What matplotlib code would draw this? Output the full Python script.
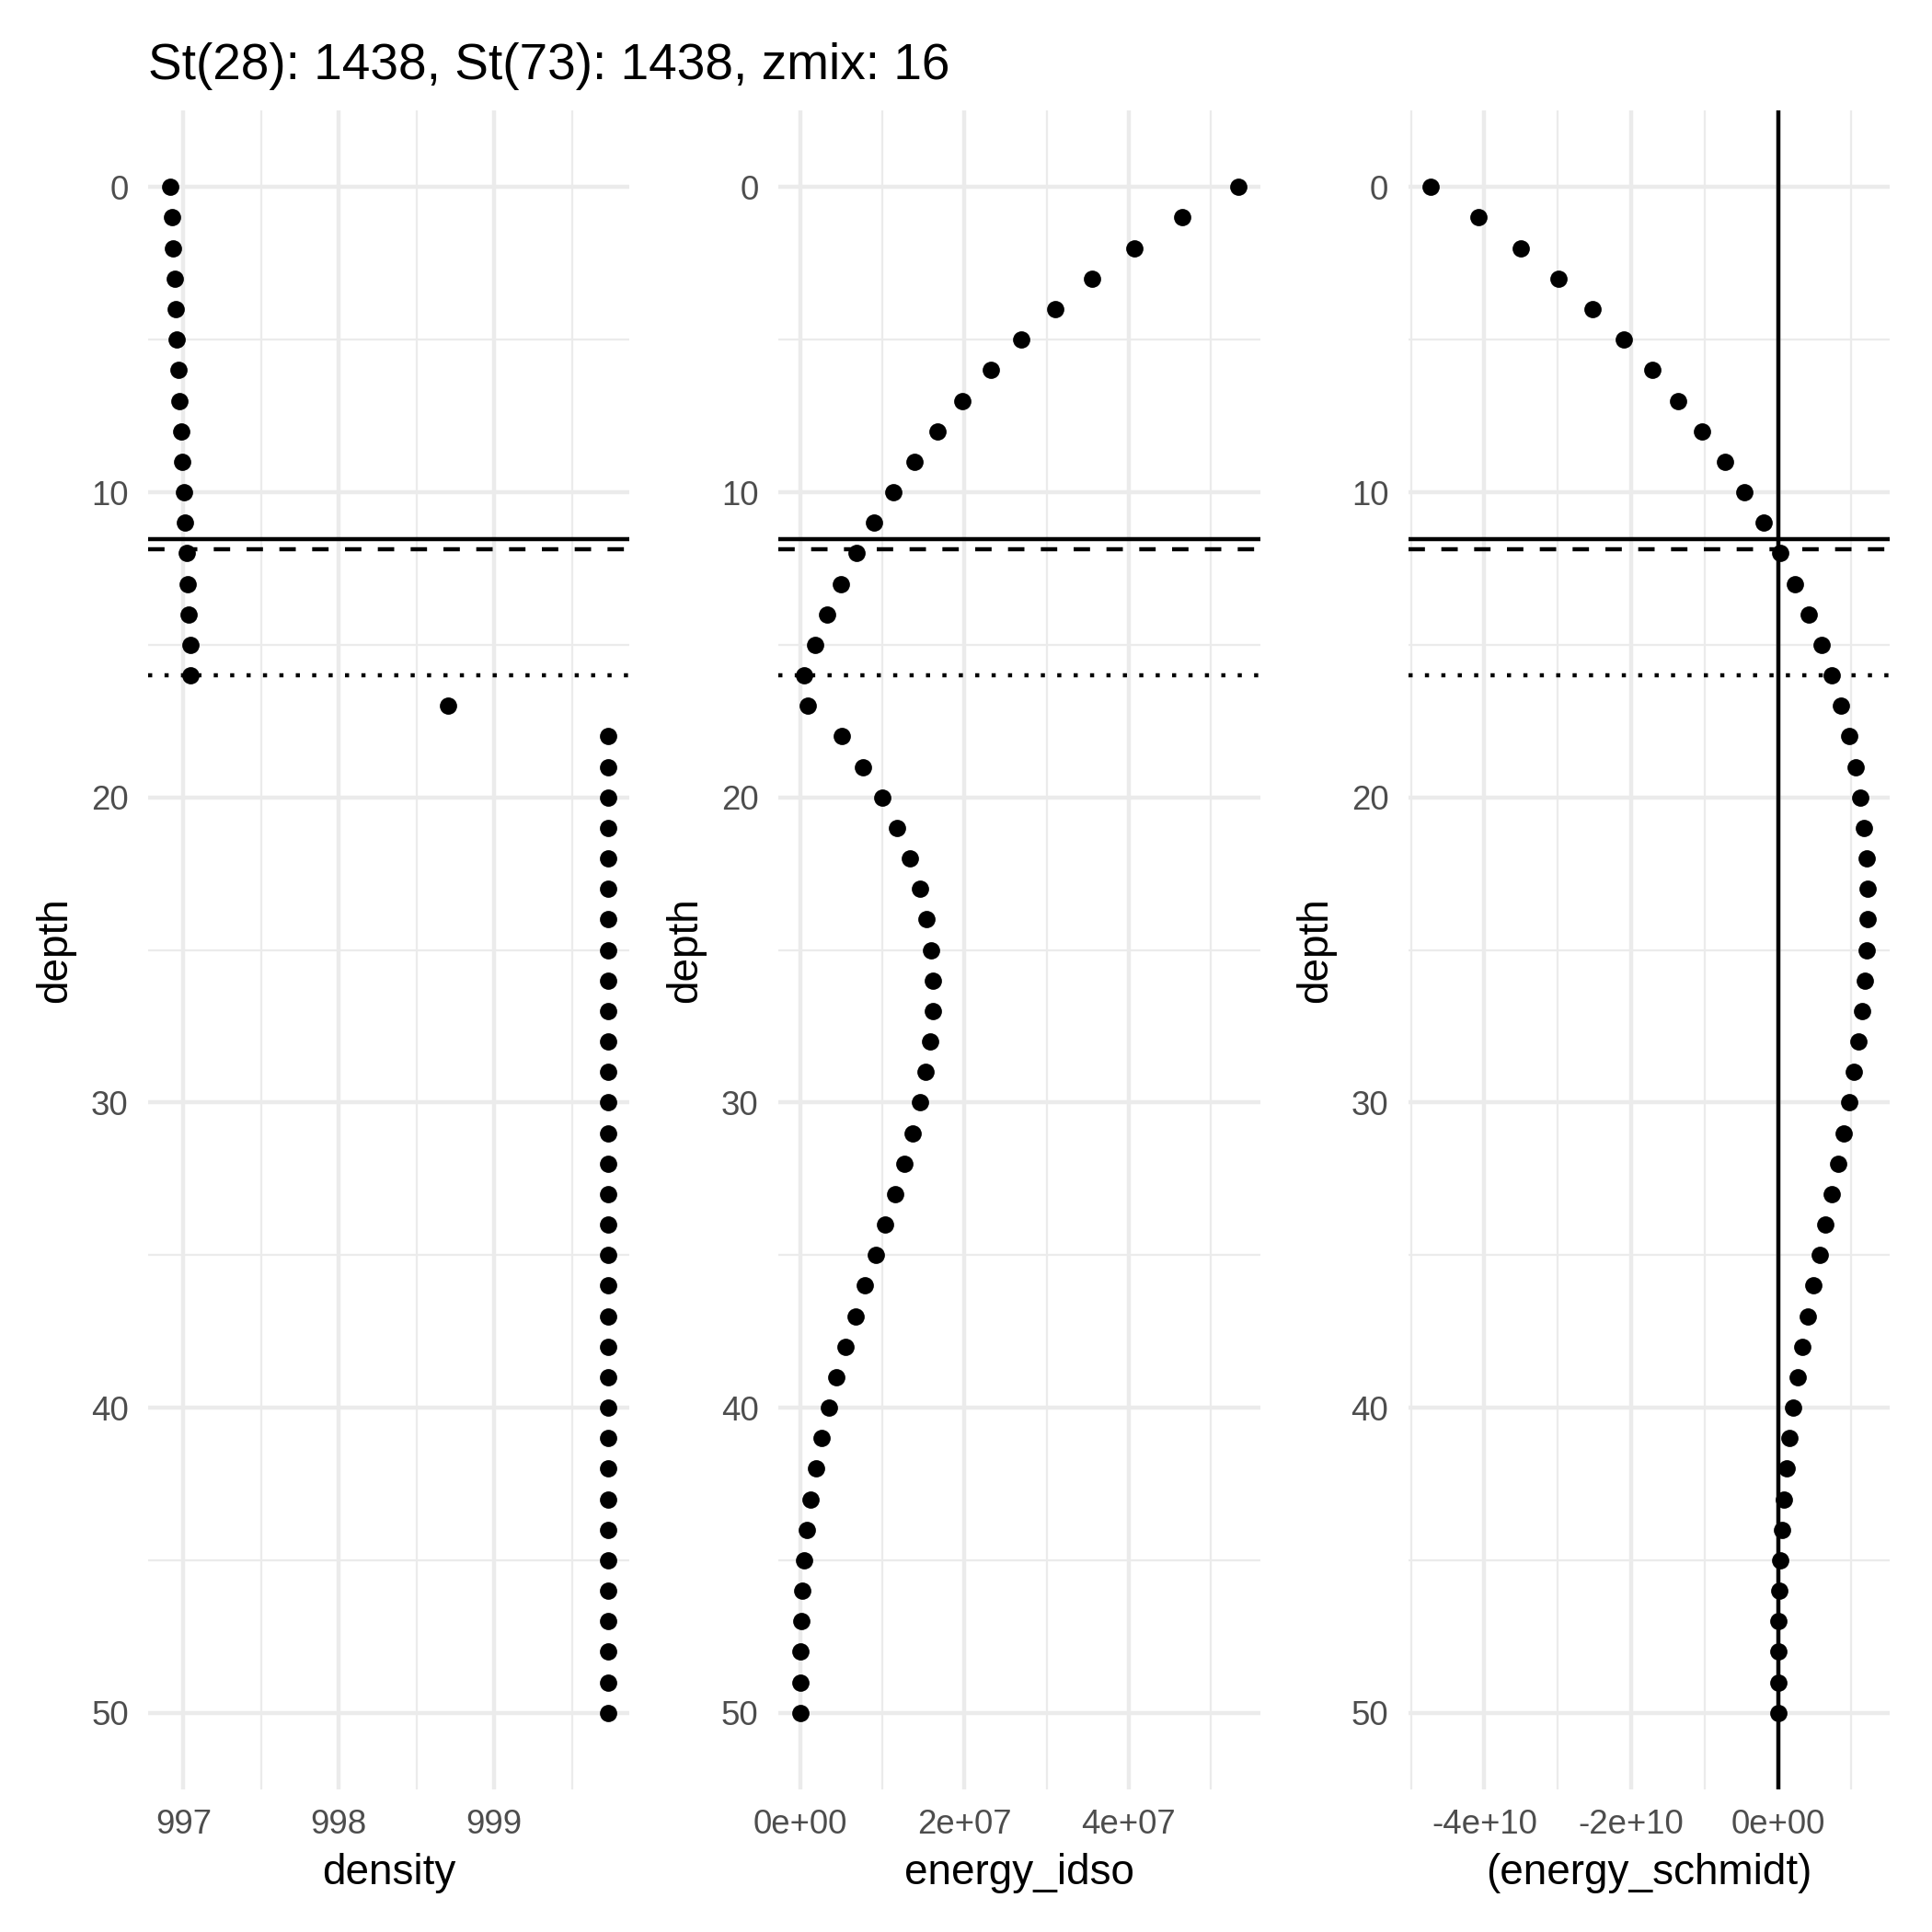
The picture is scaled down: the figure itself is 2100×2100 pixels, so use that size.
import matplotlib
matplotlib.use('Agg')
import matplotlib.pyplot as plt
from matplotlib.ticker import MultipleLocator, FuncFormatter

plt.rcParams['font.family'] = ['Liberation Sans', 'DejaVu Sans']

# profile data, one value per metre
depth = [0, 1, 2, 3, 4, 5, 6, 7, 8, 9, 10, 11, 12, 13, 14, 15, 16, 17, 18, 19, 20,
         21, 22, 23, 24, 25, 26, 27, 28, 29, 30, 31, 32, 33, 34, 35, 36, 37, 38, 39, 40,
         41, 42, 43, 44, 45, 46, 47, 48, 49, 50]

density = [996.916, 996.925, 996.934, 996.943, 996.950, 996.959, 996.968, 996.977,
           996.984, 996.993, 997.002, 997.011, 997.020, 997.027, 997.036, 997.045,
           997.045, 998.702, 999.73, 999.73, 999.73, 999.73, 999.73, 999.73, 999.73,
           999.73, 999.73, 999.73, 999.73, 999.73, 999.73, 999.73, 999.73, 999.73,
           999.73, 999.73, 999.73, 999.73, 999.73, 999.73, 999.73, 999.73, 999.73,
           999.73, 999.73, 999.73, 999.73, 999.73, 999.73, 999.73, 999.73]

# energy_idso in units of 1e7
energy_idso = [5.334, 4.657, 4.075, 3.559, 3.103, 2.691, 2.317, 1.974, 1.668, 1.385,
               1.128, 0.897, 0.688, 0.497, 0.329, 0.179, 0.045, 0.093, 0.501, 0.766,
               0.994, 1.181, 1.334, 1.454, 1.536, 1.587, 1.610, 1.610, 1.580, 1.530,
               1.454, 1.368, 1.263, 1.155, 1.035, 0.916, 0.788, 0.669, 0.553, 0.443,
               0.348, 0.262, 0.187, 0.123, 0.078, 0.041, 0.022, 0.007, 0.001, 0.0, 0.0]

# energy_schmidt in units of 1e10
energy_schmidt = [-4.735, -4.075, -3.503, -2.990, -2.526, -2.100, -1.712, -1.357, -1.031,
                  -0.727, -0.455, -0.200, 0.025, 0.234, 0.420, 0.588, 0.729, 0.858, 0.967,
                  1.054, 1.125, 1.175, 1.204, 1.221, 1.225, 1.213, 1.188, 1.146, 1.096,
                  1.038, 0.967, 0.896, 0.815, 0.730, 0.647, 0.564, 0.481, 0.407, 0.336,
                  0.266, 0.207, 0.158, 0.116, 0.075, 0.050, 0.029, 0.012, 0.004, 0.002,
                  0.0, 0.0]

thermo_solid = 11.53
thermo_dashed = 11.87
zmix = 16
title = 'St(28): 1438, St(73): 1438, zmix: 16'

idso = [v * 1e7 for v in energy_idso]
schmidt = [v * 1e10 for v in energy_schmidt]

def sci(v, pos):
    return '{:.0e}'.format(v)

fig = plt.figure(figsize=(7, 7), dpi=300)
W = 2100.0
bottom = (W - 1944.7) / W
height = (1944.7 - 120.4) / W
lefts = [161.4, 846.2, 1531.0]
widths = [523.0, 523.3, 523.2]

panels = [
    (density, 'density', 1, 0.5, None),
    (idso, 'energy_idso', 2e7, 1e7, sci),
    (schmidt, '(energy_schmidt)', 2e10, 1e10, sci),
]

for i, (xs, xlab, major, minor, fmt) in enumerate(panels):
    ax = fig.add_axes([lefts[i] / W, bottom, widths[i] / W, height])
    ax.axhline(thermo_solid, color='black', lw=1.07, zorder=3)
    ax.axhline(thermo_dashed, color='black', lw=1.07, ls=(0, (4, 4)), zorder=3)
    ax.axhline(zmix, color='black', lw=1.07, ls=(0, (1, 3)), zorder=3)
    if i == 2:
        ax.axvline(0, color='black', lw=1.07, zorder=3)
    ax.plot(xs, depth, 'o', color='black', ms=4.5, mew=0, zorder=4)
    ax.margins(x=0.05, y=0.05)
    ax.invert_yaxis()

    ax.xaxis.set_major_locator(MultipleLocator(major))
    ax.xaxis.set_minor_locator(MultipleLocator(minor))
    ax.yaxis.set_major_locator(MultipleLocator(10))
    ax.yaxis.set_minor_locator(MultipleLocator(5))
    if fmt is not None:
        ax.xaxis.set_major_formatter(FuncFormatter(fmt))

    ax.set_axisbelow(True)
    ax.grid(which='major', color='#EBEBEB', lw=1.07)
    ax.grid(which='minor', color='#EBEBEB', lw=0.53)
    for s in ax.spines.values():
        s.set_visible(False)
    ax.tick_params(which='both', length=0)
    ax.tick_params(axis='both', which='major', labelsize=8.8, labelcolor='#4D4D4D', pad=5.2)

    ax.set_xlabel(xlab, fontsize=11, labelpad=3)
    ax.set_ylabel('depth', fontsize=11, labelpad=4)

fig.text(161.4 / W, 1 - 86 / W, title, fontsize=13.2, ha='left', va='baseline')

fig.savefig('out.png', dpi=300, facecolor='white')
